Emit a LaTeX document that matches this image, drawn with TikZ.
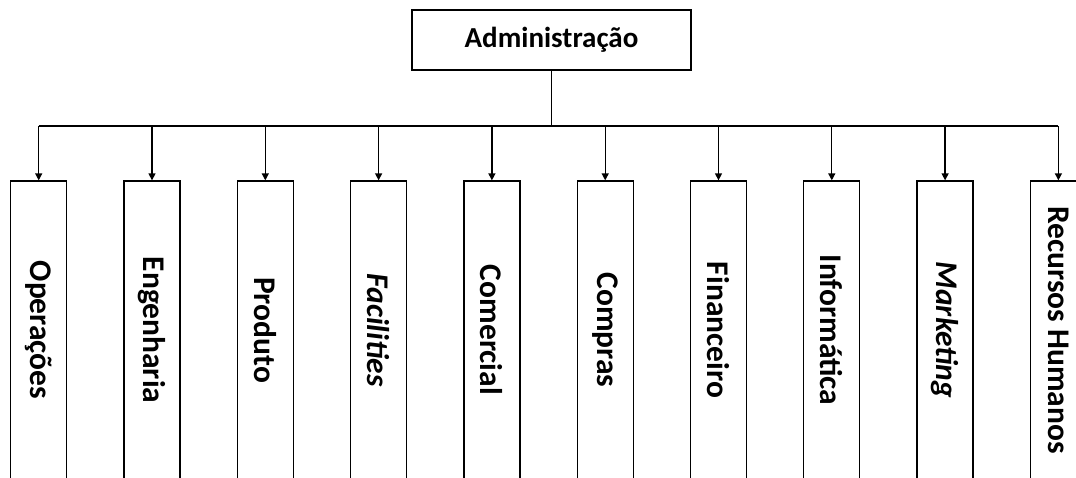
\documentclass[tikz,border=0pt]{standalone}
\usepackage{fontspec}
\setmainfont{Carlito}
\usetikzlibrary{arrows.meta}
\begin{document}
\begin{tikzpicture}[x=1pt,y=-1pt,
  headbox/.style={draw=black,line width=1.3pt,fill=white,minimum width=279pt,minimum height=60pt,inner sep=0pt,font=\fontsize{29}{31}\selectfont\bfseries},
  unitbox/.style={draw=black,line width=1.3pt,fill=white,minimum width=56pt,minimum height=298pt,inner sep=0pt,font=\fontsize{31.5}{33}\selectfont\bfseries},
  link/.style={draw=black,line width=1.3pt},
  arrowlink/.style={link,-{Triangle[width=7pt,length=7pt]}}]
\useasboundingbox (0,0) rectangle (1076,477);
\clip (0,0) rectangle (1076,477);
\node[headbox] (adm) at (551.5,40) {Administração};
\coordinate (bus) at (0,126);
\foreach \i/\t in {1/Operações,2/Engenharia,3/Produto,4/\textit{Facilities},5/Comercial,6/Compras,7/Financeiro,8/Informática,9/\textit{Marketing},10/Recursos Humanos}{
  \node[unitbox] (u\i) at ({38.7+113.3*(\i-1)},330) {\rotatebox{-90}{\t}};
}
\draw[link] (adm.south) -- (adm.south |- bus);
\draw[link] (u1.north |- bus) -- (u10.north |- bus);
\foreach \i in {1,...,10}{
  \draw[arrowlink] (u\i.north |- bus) -- (u\i.north);
}
\end{tikzpicture}
\end{document}
